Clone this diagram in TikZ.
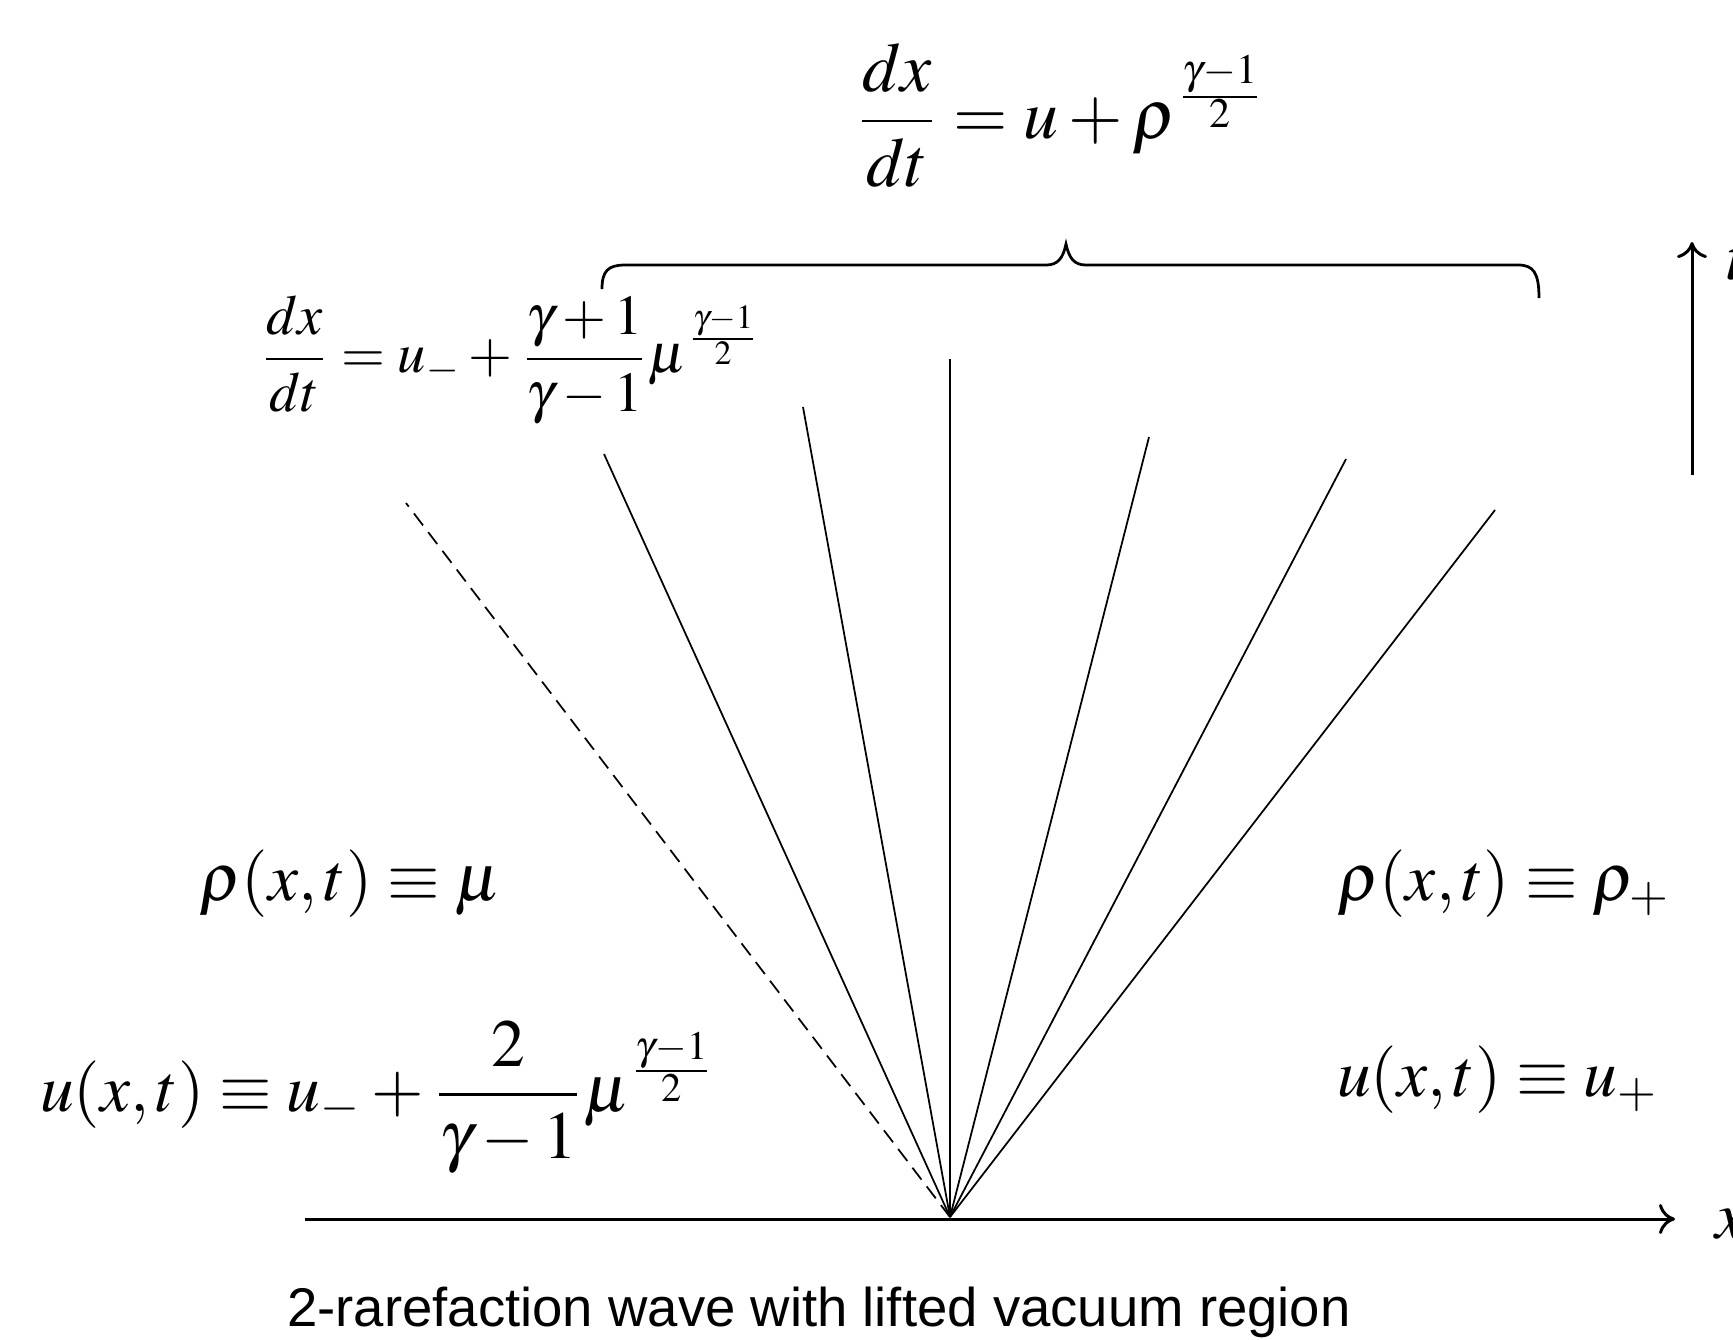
\documentclass[tikz,border=0pt]{standalone}
\usepackage{mathptmx}
\usepackage{fontspec}
\newfontfamily\capfont{Liberation Sans}
\usetikzlibrary{arrows.meta}
\tikzset{
  fan/.style={line width=0.35pt, black},
  vac/.style={line width=0.35pt, black, dash pattern=on 3pt off 1.7pt},
  axis/.style={line width=0.6pt, black, -{Computer Modern Rightarrow[length=3.2pt,width=6pt]}},
  bracestyle/.style={line width=0.55pt, black},
  eq/.style={inner sep=0pt, font=\fontsize{13.5}{16}\selectfont},
  eqbig/.style={inner sep=0pt, font=\fontsize{14}{17}\selectfont},
  eqsmall/.style={inner sep=0pt, font=\fontsize{11.3}{13.5}\selectfont},
  captext/.style={inner sep=0pt, font=\capfont\fontsize{10.9}{13}\selectfont}
}
\begin{document}
\begin{tikzpicture}[x=0.2pt, y=-0.2pt]
\useasboundingbox (0,0) rectangle (1733,1339);
% origin and fan ends
\coordinate (O) at (950,1217);
\coordinate (d0) at (406,503);
\coordinate (l1) at (604,454);
\coordinate (l2) at (803,407);
\coordinate (l3) at (950,359);
\coordinate (l4) at (1149,437);
\coordinate (l5) at (1346,459);
\coordinate (l6) at (1495,510);
\draw[vac] (O) -- (d0);
\foreach \e in {l1,l2,l3,l4,l5,l6} \draw[fan] (O) -- (\e);
% axes
\coordinate (xs) at (305,1219);
\coordinate (xe) at (1675,1219);
\draw[axis] (xs) -- (xe);
\node[eq, anchor=west] (xl) at (1714,1224) {$x$};
\coordinate (ts) at (1692,475);
\coordinate (te) at (1692,242);
\draw[axis] (ts) -- (te);
\node[eq, anchor=west] (tl) at (1726,262) {$t$};
% brace
\draw[bracestyle] (602,289) .. controls (602,271) and (608,265) .. (625,265)
  -- (1046,265) .. controls (1058,265) and (1063,258) .. (1066,244)
  .. controls (1069,258) and (1074,265) .. (1086,265)
  -- (1518,265) .. controls (1533,265) and (1539,272) .. (1539,298);
% formulas
\node[eqbig] (top) at (1061,115) {$\displaystyle \frac{dx}{dt} = u + \rho^{\frac{\gamma-1}{2}}$};
\node[eqsmall] (left) at (511,360) {$\displaystyle \frac{dx}{dt} = u_{-} + \frac{\gamma+1}{\gamma-1}\mu^{\frac{\gamma-1}{2}}$};
\node[eq] (rhoL) at (350,884) {$\rho(x,t)\equiv\mu$};
\node[eq] (uL) at (378,1097) {$\displaystyle u(x,t)\equiv u_{-} + \frac{2}{\gamma-1}\mu^{\frac{\gamma-1}{2}}$};
\node[eq] (rhoR) at (1504,884) {$\rho(x,t)\equiv\rho_{+}$};
\node[eq] (uR) at (1498,1080) {$u(x,t)\equiv u_{+}$};
% caption
\node[captext, anchor=base] (caption) at (819,1326) {2-rarefaction wave with lifted vacuum region};
\end{tikzpicture}
\end{document}
